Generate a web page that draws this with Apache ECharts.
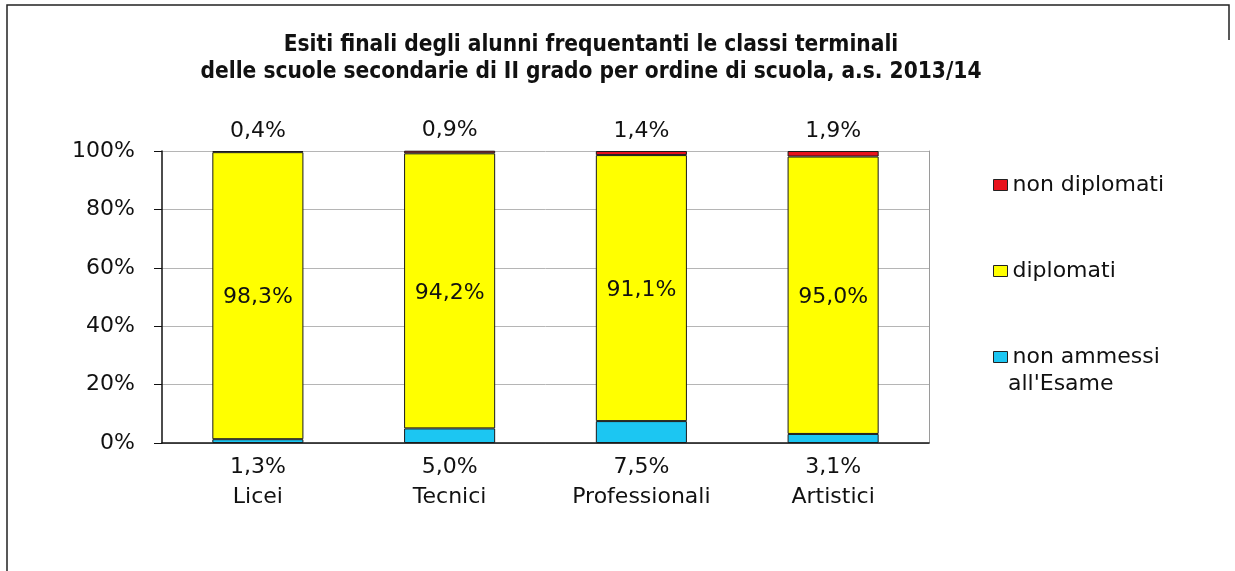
<!DOCTYPE html>
<html>
<head>
<meta charset="utf-8">
<script src="https://cdn.jsdelivr.net/npm/echarts@6/dist/echarts.min.js"></script>
<style>
html,body{margin:0;padding:0;background:#fff;}
#chart{width:1235px;height:571px;}
</style>
</head>
<body>
<div id="chart"></div>
<script>
const categories = ['Licei', 'Tecnici', 'Professionali', 'Artistici'];
const nonAmmessi = [1.3, 5.0, 7.5, 3.1];
const diplomati = [98.3, 94.2, 91.1, 95.0];
const nonDiplomati = [0.4, 0.9, 1.4, 1.9];
const seriesNames = ["non ammessi all'Esame", 'diplomati', 'non diplomati'];
const legendLines = {"non ammessi all'Esame": ['non ammessi', "all'Esame"]};
const titleLines = ['Esiti finali degli alunni frequentanti le classi terminali',
  'delle scuole secondarie di II grado per ordine di scuola, a.s. 2013/14'];

const FONT = '"DejaVu Sans", "Liberation Sans", Arial, sans-serif';
const FS = 22;
const fmt = p => p.value.toFixed(1).replace('.', ',') + '%';
const border = {borderColor: '#1a1a1a', borderWidth: 1};

const chart = echarts.init(document.getElementById('chart'));
chart.setOption({
  animation: false,
  backgroundColor: '#fff',
  title: {
    text: titleLines.join('\n'),
    left: 586, top: 27, textAlign: 'center',
    textStyle: {fontFamily: '"Liberation Sans Narrow", "DejaVu Sans Condensed", sans-serif',
      fontWeight: 'bold', fontSize: 22.5, lineHeight: 27, color: '#111'}
  },
  legend: {
    orient: 'vertical', left: 988, top: 167,
    itemWidth: 14, itemHeight: 11, itemGap: 60, icon: 'rect',
    data: ['non diplomati', 'diplomati', seriesNames[0]],
    formatter: name => legendLines[name] ? legendLines[name][0] : name,
    textStyle: {fontFamily: FONT, fontSize: FS, color: '#111', lineHeight: 26},
    itemStyle: {borderColor: '#222', borderWidth: 1}
  },
  grid: {left: 162, right: 306, top: 151, bottom: 128, containLabel: false},
  xAxis: {
    type: 'category', data: categories,
    axisLine: {lineStyle: {color: '#111', width: 1.5}},
    axisTick: {show: false},
    axisLabel: {margin: 43, fontFamily: FONT, fontSize: FS, color: '#111'}
  },
  yAxis: [{
    type: 'value', min: 0, max: 100, interval: 20,
    axisLine: {show: true, lineStyle: {color: '#111', width: 1.5}},
    axisTick: {show: true, length: 8, lineStyle: {color: '#111'}},
    axisLabel: {formatter: '{value}%', fontFamily: FONT, fontSize: FS, color: '#111', margin: 27},
    splitLine: {lineStyle: {color: '#b5b5b5', width: 1}}
  }, {
    type: 'value', min: 0, max: 100, interval: 20, position: 'right',
    axisLine: {show: true, lineStyle: {color: '#9a9a9a', width: 1}},
    axisTick: {show: false}, axisLabel: {show: false}, splitLine: {show: false}
  }],
  series: [
    {
      name: seriesNames[0], type: 'bar', stack: 'tot', data: nonAmmessi, barWidth: '47.5%',
      itemStyle: Object.assign({color: '#1CC6F2'}, border),
      label: {show: true, position: 'bottom', distance: 13, formatter: fmt,
        fontFamily: FONT, fontSize: FS, color: '#111'}
    },
    {
      name: 'diplomati', type: 'bar', stack: 'tot', data: diplomati, barWidth: '47.5%',
      itemStyle: Object.assign({color: '#FFFF00'}, border),
      label: {show: true, position: 'inside', offset: [0, 2], formatter: fmt,
        fontFamily: FONT, fontSize: FS, color: '#111'}
    },
    {
      name: 'non diplomati', type: 'bar', stack: 'tot', data: nonDiplomati, barWidth: '47.5%',
      itemStyle: Object.assign({color: '#E8121C'}, border),
      label: {show: true, position: 'top', distance: 9, formatter: fmt,
        fontFamily: FONT, fontSize: FS, color: '#111'}
    }
  ],
  graphic: [{
    type: 'polyline', silent: true,
    shape: {points: [[7, 571], [7, 5], [1229, 5], [1229, 40]]},
    style: {stroke: '#222', lineWidth: 1.5, fill: null}
  }, {
    type: 'text', silent: true, left: 1008, top: 373,
    style: {text: legendLines[seriesNames[0]][1], fontFamily: FONT, fontSize: FS, fill: '#111'}
  }]
});
</script>
</body>
</html>
